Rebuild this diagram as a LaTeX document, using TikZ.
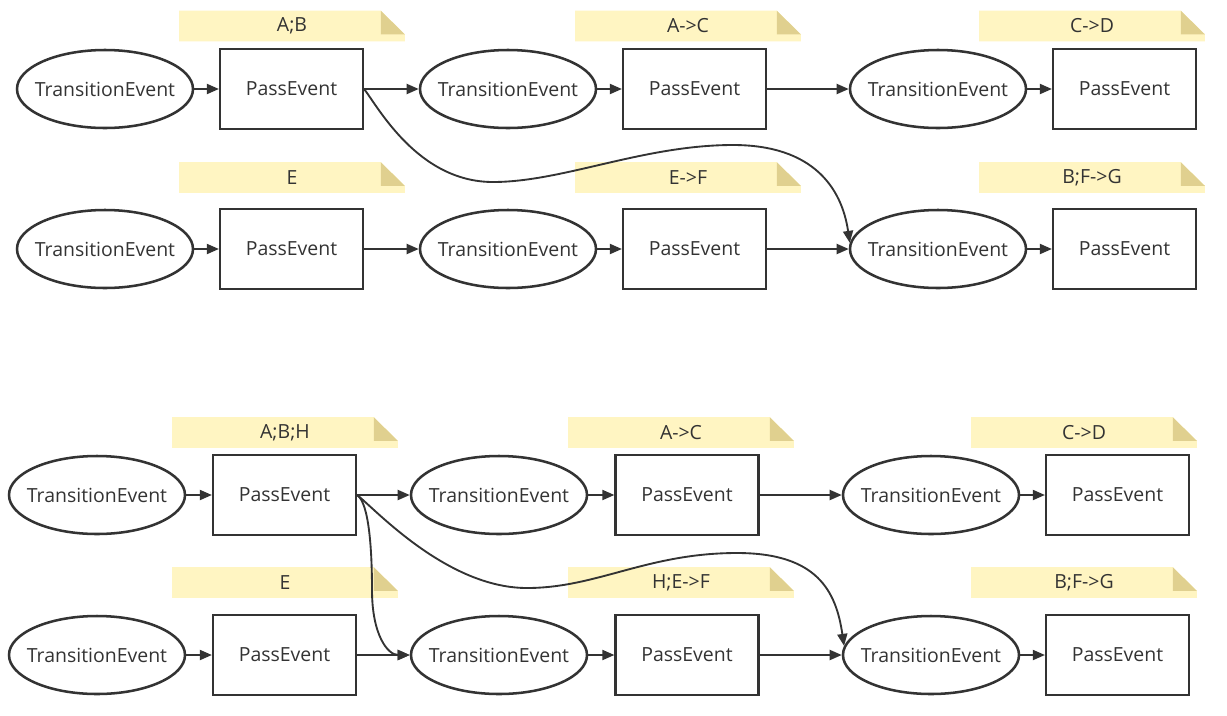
\documentclass[tikz,border=0pt]{standalone}
\usepackage{fontspec}
\setmainfont{Open Sans}
\usetikzlibrary{arrows.meta,backgrounds,shapes.geometric}
\definecolor{ink}{HTML}{333333}
\definecolor{notey}{HTML}{FFF5C2}
\definecolor{notefold}{HTML}{E0D08F}
\newcommand{\tevlabel}{\makebox[60pt]{TransitionEvent}}
\tikzset{
  lbl/.style={text=ink,font=\fontsize{14.6pt}{17pt}\selectfont},
  tev/.style={ellipse,draw=ink,line width=1.9pt,minimum width=132pt,minimum height=58.5pt,inner sep=0pt,lbl},
  pev/.style={rectangle,draw=ink,line width=1.9pt,minimum width=107pt,minimum height=60pt,inner sep=0pt,lbl},
  notebox/.style={rectangle,minimum width=168.75pt,minimum height=22.5pt,inner sep=0pt,lbl},
  conn/.style={draw=ink,line width=1.4pt,-{Triangle[length=9pt,width=7.5pt]}},
}
\newcommand{\mknote}[4]{%
  \node[notebox] (#1) at (#2,#3) {#4};
  \begin{pgfonlayer}{background}
  \fill[notey] (#1.south west) -- (#1.north west) -- ([xshift=-18pt]#1.north east) -- ([yshift=5.25pt]#1.south east) -- (#1.south east) -- cycle;
  \fill[notefold] ([xshift=-18pt]#1.north east) -- ([xshift=-18pt,yshift=5.25pt]#1.south east) -- ([yshift=5.25pt]#1.south east) -- cycle;
  \end{pgfonlayer}}
\begin{document}
\begin{tikzpicture}[x=0.75pt,y=-0.75pt]
\useasboundingbox (0,0) rectangle (1227,715);
% ---------- top group ----------
\mknote{na1}{292}{26}{A;B}
\mknote{na2}{688}{26}{A->C}
\mknote{na3}{1092}{26}{C->D}
\mknote{na4}{292}{177.5}{E}
\mknote{na5}{688}{177.5}{E->F}
\mknote{na6}{1092}{177.5}{B;F->G}
\node[tev] (a1) at (105,89) {\tevlabel};
\node[pev] (a2) at (291.5,89) {PassEvent};
\node[tev] (a3) at (508,89) {\tevlabel};
\node[pev] (a4) at (694.5,89) {PassEvent};
\node[tev] (a5) at (938,89) {\tevlabel};
\node[pev] (a6) at (1124.5,89) {PassEvent};
\node[tev] (b1) at (105,249) {\tevlabel};
\node[pev] (b2) at (291.5,249) {PassEvent};
\node[tev] (b3) at (508,249) {\tevlabel};
\node[pev] (b4) at (694.5,249) {PassEvent};
\node[tev] (b5) at (938,249) {\tevlabel};
\node[pev] (b6) at (1124.5,249) {PassEvent};
\draw[conn] (a1) -- (a2);
\draw[conn] (a2) -- (a3);
\draw[conn] (a3) -- (a4);
\draw[conn] (a4) -- (a5);
\draw[conn] (a5) -- (a6);
\draw[conn] (b1) -- (b2);
\draw[conn] (b2) -- (b3);
\draw[conn] (b3) -- (b4);
\draw[conn] (b4) -- (b5);
\draw[conn] (b5) -- (b6);
\draw[conn] (a2.east) .. controls +(14,18) and +(-75,0) .. (493,182)
  .. controls +(70,0) and +(-90,0) .. (733,145)
  .. controls +(80,0) and +(-8,-55) .. (b5.176);
% ---------- bottom group ----------
\mknote{nc1}{285}{432.5}{A;B;H}
\mknote{nc2}{681}{432.5}{A->C}
\mknote{nc3}{1084}{432.5}{C->D}
\mknote{nc4}{285}{582.5}{E}
\mknote{nc5}{681}{582.5}{H;E->F}
\mknote{nc6}{1084}{582.5}{B;F->G}
\node[tev] (c1) at (97,495) {\tevlabel};
\node[pev] (c2) at (284.5,495) {PassEvent};
\node[tev] (c3) at (499,495) {\tevlabel};
\node[pev] (c4) at (687,495) {PassEvent};
\node[tev] (c5) at (931,495) {\tevlabel};
\node[pev] (c6) at (1117.5,495) {PassEvent};
\node[tev] (d1) at (97,655) {\tevlabel};
\node[pev] (d2) at (284.5,655) {PassEvent};
\node[tev] (d3) at (499,655) {\tevlabel};
\node[pev] (d4) at (687,655) {PassEvent};
\node[tev] (d5) at (931,655) {\tevlabel};
\node[pev] (d6) at (1117.5,655) {PassEvent};
\draw[conn] (c1) -- (c2);
\draw[conn] (c2) -- (c3);
\draw[conn] (c3) -- (c4);
\draw[conn] (c4) -- (c5);
\draw[conn] (c5) -- (c6);
\draw[conn] (d1) -- (d2);
\draw[conn] (d2) -- (d3);
\draw[conn] (d3) -- (d4);
\draw[conn] (d4) -- (d5);
\draw[conn] (d5) -- (d6);
\draw[conn] (c2.east) .. controls +(18,14) and +(-80,0) .. (527,588)
  .. controls +(70,0) and +(-90,0) .. (737,553)
  .. controls +(80,0) and +(-8,-55) .. (d5.174);
\draw[conn] (c2.east) .. controls +(12,8) and +(0,-40) .. (372,590)
  .. controls +(0,45) and +(-22,0) .. (d3.west);
\end{tikzpicture}
\end{document}
